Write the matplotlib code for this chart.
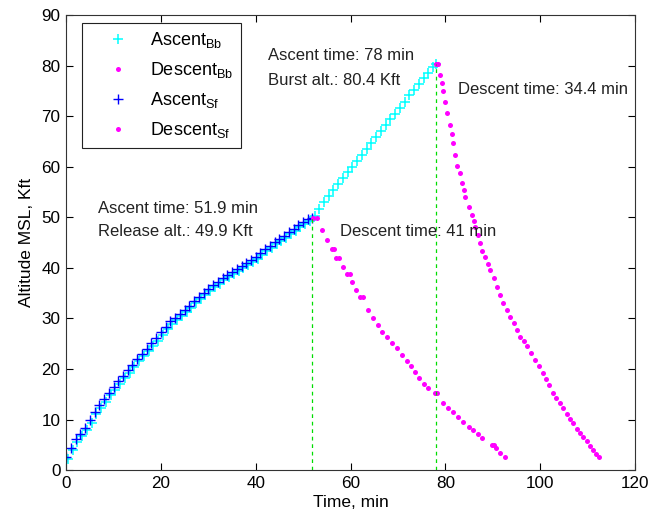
import numpy as np
import matplotlib
matplotlib.use("Agg")
import matplotlib.pyplot as plt

plt.rcParams['font.family'] = ['Liberation Sans', 'DejaVu Sans']

# ascent, small float (Sf) - released at 51.9 min
t_asc_sf = [0, 1, 2, 3, 4, 5, 6, 7, 8, 9, 10, 11, 12, 13, 14, 15, 16, 17, 18, 19,
            20, 21, 22, 23, 24, 25, 26, 27, 28, 29, 30, 31, 32, 33, 34, 35, 36, 37, 38, 39,
            40, 41, 42, 43, 44, 45, 46, 47, 48, 49, 50, 51, 51.9]
h_asc_sf = [2.6, 4.4, 6.1, 7.2, 8.3, 9.9, 11.5, 12.8, 14.0, 15.3, 16.4, 17.6, 18.7, 19.7, 20.8, 22.0, 23.0, 24.0, 25.1, 26.1,
            27.3, 28.4, 29.4, 30.1, 30.9, 31.6, 32.5, 33.4, 34.3, 35.0, 35.8, 36.6, 37.3, 38.0, 38.6, 39.2, 39.7, 40.3, 40.9, 41.5,
            42.2, 42.9, 43.7, 44.4, 45.1, 45.7, 46.4, 47.0, 47.7, 48.4, 49.1, 49.6, 49.9]

# ascent, burst balloon (Bb) - burst at 78 min
t_asc_bb = [0.4, 1.4, 2.4, 3.4, 4.4, 5.4, 6.4, 7.4, 8.4, 9.4, 10.4, 11.4, 12.4, 13.4, 14.4, 15.4, 16.4, 17.4, 18.4, 19.4,
            20.4, 21.4, 22.4, 23.4, 24.4, 25.4, 26.4, 27.4, 28.4, 29.4, 30.4, 31.4, 32.4, 33.4, 34.4, 35.4, 36.4, 37.4, 38.4, 39.4,
            40.4, 41.4, 42.4, 43.4, 44.4, 45.4, 46.4, 47.4, 48.4, 49.4, 50.4, 51.4, 52.4, 53.4, 54.4, 55.4, 56.4, 57.4, 58.4, 59.4,
            60.4, 61.4, 62.4, 63.4, 64.4, 65.4, 66.4, 67.4, 68.4, 69.4, 70.4, 71.4, 72.4, 73.4, 74.4, 75.4, 76.4, 77.4, 78.0]
h_asc_bb = [2.2, 3.9, 5.6, 6.8, 7.9, 9.4, 11.0, 12.3, 13.5, 14.8, 15.9, 17.1, 18.2, 19.2, 20.3, 21.5, 22.5, 23.5, 24.6, 25.6,
            26.8, 27.9, 28.9, 29.7, 30.5, 31.2, 32.1, 33.0, 33.9, 34.6, 35.4, 36.2, 36.9, 37.6, 38.2, 38.8, 39.4, 39.9, 40.5, 41.1,
            41.8, 42.5, 43.3, 44.0, 44.7, 45.3, 46.0, 46.6, 47.3, 48.0, 48.7, 49.3, 50.2, 51.6, 53.0, 54.3, 55.4, 56.6, 57.8, 58.9,
            60.0, 61.2, 62.4, 63.5, 64.6, 65.8, 67.0, 68.2, 69.4, 70.5, 71.7, 72.9, 74.1, 75.2, 76.3, 77.5, 78.6, 79.7, 80.4]

# descent after release (Sf)
t_dsc_sf = [52.0, 52.9, 54.0, 55.0, 56.0, 56.5, 57.0, 57.5, 58.3, 59.3, 59.9, 60.4, 61.2, 62.0, 62.6, 63.7, 64.7, 65.8,
            66.7, 67.7, 68.8, 69.8, 70.9, 71.9, 72.8, 73.6, 74.5, 75.5, 76.4, 77.8, 78.2, 79.5, 80.5, 81.6, 82.7, 83.8,
            84.9, 85.9, 86.9, 87.8, 89.8, 90.3, 90.6, 91.5, 92.6]
h_dsc_sf = [49.9, 49.9, 47.5, 45.6, 43.7, 43.7, 41.9, 41.9, 40.2, 38.8, 38.8, 37.2, 35.6, 34.2, 34.2, 31.6, 30.0, 28.7,
            27.4, 26.3, 25.1, 24.1, 22.8, 21.6, 20.5, 19.4, 18.2, 17.1, 16.2, 15.2, 15.2, 13.2, 12.3, 11.5, 10.5, 9.5,
            8.6, 7.9, 7.1, 6.3, 4.9, 4.9, 4.3, 3.3, 2.6]

# descent after burst (Bb)
t_dsc_bb = [78.0, 78.4, 78.9, 79.2, 79.5, 80.0, 80.4, 81.0, 81.4, 81.6, 82.1, 82.5, 83.1, 83.5, 83.9, 84.2, 85.0, 85.7,
            86.0, 86.3, 86.8, 87.3, 87.8, 88.4, 88.9, 89.5, 90.2, 90.9, 91.5, 92.2, 92.9, 93.7, 94.4, 95.1, 95.8, 96.5,
            97.3, 98.1, 98.9, 99.8, 100.6, 101.2, 101.8, 102.7, 103.3, 104.1, 104.9, 105.6, 106.3, 107.0, 107.7, 108.4,
            109.1, 109.8, 110.5, 111.2, 111.8, 112.4]
h_dsc_bb = [80.4, 80.4, 78.1, 76.5, 75.0, 72.8, 70.6, 68.2, 66.4, 64.7, 62.3, 60.1, 58.7, 56.8, 55.4, 54.0, 52.0, 50.4,
            49.2, 48.1, 46.5, 44.9, 43.4, 42.1, 40.8, 39.6, 37.9, 36.2, 34.6, 33.0, 31.6, 30.3, 29.0, 27.7, 26.4, 25.6,
            24.5, 23.1, 21.8, 20.5, 19.2, 18.0, 16.8, 15.2, 14.2, 13.3, 12.2, 11.0, 10.1, 9.3, 8.2, 7.4,
            6.5, 5.7, 4.8, 4.0, 3.2, 2.5]

release_t, release_h = 51.9, 49.9
burst_t, burst_h = 78, 80.4

fig = plt.figure(figsize=(6.48, 5.2), dpi=100)
ax = fig.add_axes([0.102, 0.096, 0.878, 0.875])

ax.plot(t_asc_bb, h_asc_bb, '+', color='#00ffff', ms=7, mew=1.1, label=r'$\mathregular{Ascent_{Bb}}$')
ax.plot(t_dsc_bb, h_dsc_bb, 'o', color='#ff00ff', ms=3.6, mew=0, label=r'$\mathregular{Descent_{Bb}}$')
ax.plot(t_asc_sf, h_asc_sf, '+', color='#0000ff', ms=7, mew=1.0, label=r'$\mathregular{Ascent_{Sf}}$')
ax.plot(t_dsc_sf, h_dsc_sf, 'o', color='#ff00ff', ms=3.6, mew=0, label=r'$\mathregular{Descent_{Sf}}$')

ax.plot([release_t, release_t], [0, release_h], color='#00dd00', lw=0.9, ls=(0, (3, 3)))
ax.plot([burst_t, burst_t], [0, burst_h], color='#00dd00', lw=0.9, ls=(0, (3, 3)))

fs = 12
tc = '#222222'
ax.text(6.8, 51.8, 'Ascent time: 51.9 min', fontsize=fs, va='center', color=tc)
ax.text(6.8, 47.1, 'Release alt.: 49.9 Kft', fontsize=fs, va='center', color=tc)
ax.text(42.6, 82.1, 'Ascent time: 78 min', fontsize=fs, va='center', color=tc)
ax.text(42.6, 77.1, 'Burst alt.: 80.4 Kft', fontsize=fs, va='center', color=tc)
ax.text(57.8, 47.1, 'Descent time: 41 min', fontsize=fs, va='center', color=tc)
ax.text(82.7, 75.2, 'Descent time: 34.4 min', fontsize=fs, va='center', color=tc)

ax.set_xlim(0, 120)
ax.set_ylim(0, 90)
ax.set_xticks(np.arange(0, 121, 20))
ax.set_yticks(np.arange(0, 91, 10))
ax.tick_params(direction='in', top=True, right=True, length=5, labelsize=12.3, pad=4)
for s in ax.spines.values():
    s.set_color('#333333')
    s.set_linewidth(0.8)
ax.set_xlabel('Time, min', fontsize=12.5, labelpad=3)
ax.set_ylabel('Altitude MSL, Kft', fontsize=12.5, labelpad=5)

leg = ax.legend(loc='upper left', bbox_to_anchor=(0.028, 0.982), borderaxespad=0,
                fontsize=13, fancybox=False, edgecolor='#222222', framealpha=1,
                labelspacing=0.55, handlelength=3.2, handletextpad=0.18, borderpad=0.4)
leg.get_frame().set_linewidth(0.8)

fig.savefig('out.png', dpi=100)
